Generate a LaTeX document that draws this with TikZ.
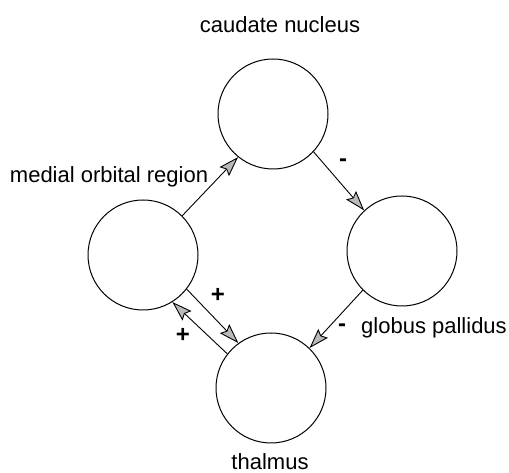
\documentclass[tikz,border=0pt]{standalone}
\usepackage{fontspec}
\setmainfont{Liberation Sans}
\usetikzlibrary{arrows.meta}

\begin{document}
\begin{tikzpicture}[
  x=1pt, y=1pt,
  region/.style={circle, draw=black, line width=1pt, minimum size=110pt, inner sep=0pt},
  lbl/.style={font=\fontsize{22}{26}\selectfont, inner sep=0pt},
  sgn/.style={font=\fontsize{24}{28}\selectfont\bfseries, inner sep=0pt},
  line/.style={-{Stealth[length=20pt, width=13pt, inset=3pt, fill=gray!55]}, line width=0.9pt, draw=black}
]
\useasboundingbox (0,0) rectangle (509,473);

\node[region] (caudate) at (273,359) {};
\node[region] (orbital) at (143,218) {};
\node[region] (pallidus) at (402,222) {};
\node[region] (thalmus) at (271,85) {};

\node[lbl] (caudatelbl) at (280,448) {caudate nucleus};
\node[lbl] (orbitallbl) at (109,296) {medial orbital region};
\node[lbl] (pallidulbl) at (434,145) {globus pallidus};
\node[lbl] (thalmuslbl) at (270,11) {thalmus};

\node[sgn] (minus1) at (343,310) {-};
\node[sgn] (minus2) at (342,145) {-};
\node[sgn] (plus1) at (218,178) {+};
\node[sgn] (plus2) at (183,138) {+};

% Arrows
\draw [line] (orbital.45) -- (caudate.231);
\draw [line] (caudate.-43) -- (pallidus.133);
\draw [line] (pallidus.225) -- (thalmus.46);
\draw [line] (orbital.-38) -- (thalmus.126);
\draw [line] (thalmus.142) -- (orbital.-58);

\end{tikzpicture}
\end{document}
